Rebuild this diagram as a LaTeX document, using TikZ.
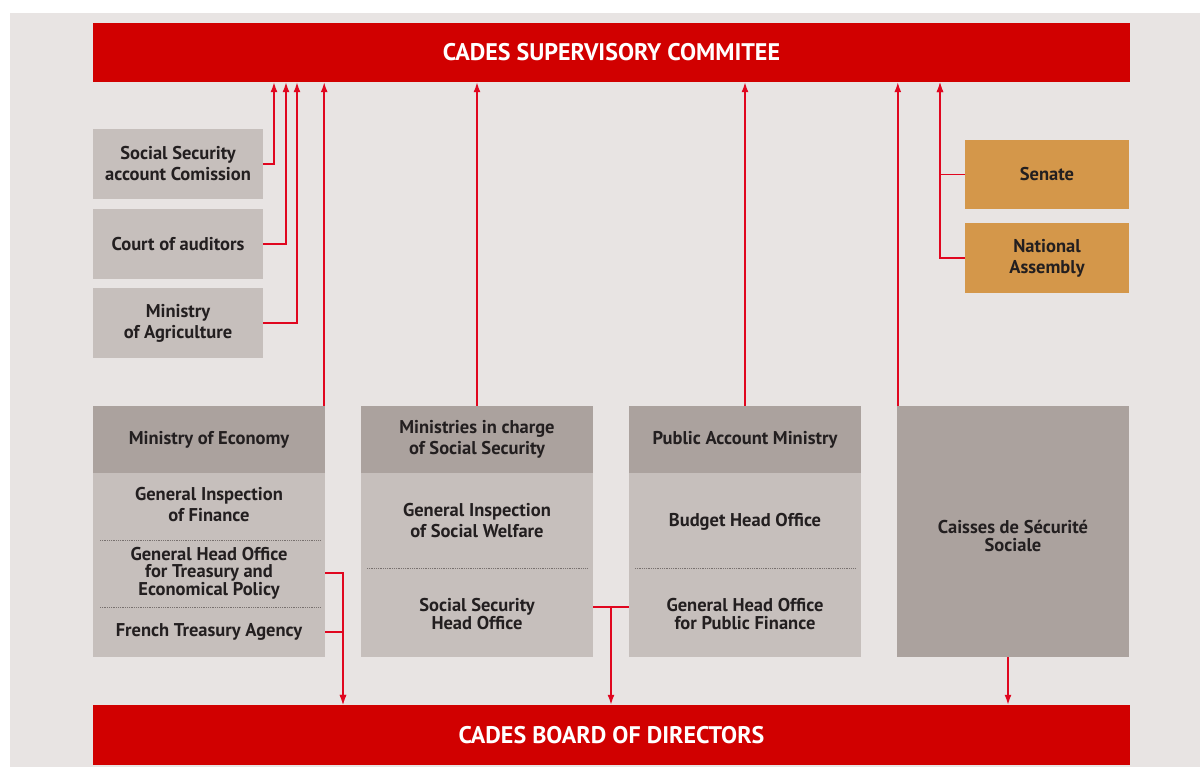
\documentclass[tikz,border=0pt]{standalone}
\usepackage{fontspec}
\setmainfont{PT Sans}
\usetikzlibrary{arrows.meta}
\definecolor{bgback}{HTML}{E8E4E3}
\definecolor{cadesred}{HTML}{D10000}
\definecolor{linered}{HTML}{E0061F}
\definecolor{headgrey}{HTML}{ABA29E}
\definecolor{bodygrey}{HTML}{C6BFBC}
\definecolor{parlorange}{HTML}{D4974A}
\definecolor{txtdark}{HTML}{231F20}
\begin{document}
\begin{tikzpicture}[x=1pt,y=-1pt]
        \tikzstyle{bar} = [rectangle, fill=cadesred, text=white, font=\bfseries\fontsize{24}{26}\selectfont, minimum width=1037pt, minimum height=59pt, inner sep=0pt]
        \tikzstyle{block} = [rectangle, fill=bodygrey, text=txtdark, align=center, font=\bfseries\fontsize{18.5}{21}\selectfont, minimum width=170pt, minimum height=70pt, inner sep=0pt]
        \tikzstyle{head} = [block, fill=headgrey, minimum width=232pt, minimum height=67pt]
        \tikzstyle{body} = [block, minimum width=232pt, minimum height=184pt]
        \tikzstyle{sub} = [text=txtdark, align=center, font=\bfseries\fontsize{18.5}{21}\selectfont, inner sep=0pt]
        \tikzstyle{tight} = [sub, font=\bfseries\fontsize{18.5}{17.5}\selectfont]
        \tikzstyle{sep} = [draw=headgrey!70!black, densely dotted, line width=.8pt]
        \tikzstyle{line} = [-{Latex[length=10pt,width=7pt]}, draw=linered, line width=1.5pt]
        \useasboundingbox (0,0) rectangle (1200,767);
        \fill[bgback] (10,13) rectangle (1200,767);
        \node[bar] (sup) at (611.5,52.5) {CADES SUPERVISORY COMMITEE};
        \node[bar, minimum height=60pt] (board) at (611.5,735) {CADES BOARD OF DIRECTORS};
        % left boxes
        \node[block] (ssac) at (178,164) {Social Security\\account Comission};
        \node[block] (court) at (178,244) {Court of auditors};
        \node[block] (agri) at (178,323) {Ministry\\of Agriculture};
        % parliament
        \node[block, fill=parlorange, minimum width=164pt, minimum height=69pt] (senate) at (1047,174.5) {Senate};
        \node[block, fill=parlorange, minimum width=164pt] (assembly) at (1047,258) {National\\Assembly};
        % ministries
        \node[head] (ecohead) at (209,439.5) {Ministry of Economy};
        \node[body] (ecobody) at (209,565) {};
        \node[head] (sochead) at (477,439.5) {Ministries in charge\\of Social Security};
        \node[body] (socbody) at (477,565) {};
        \node[head] (pubhead) at (745,439.5) {Public Account Ministry};
        \node[body] (pubbody) at (745,565) {};
        \node[head, minimum height=251pt] (caisses) at (1013,531.5) {};
        \node[tight] (caissestxt) at (1013,536) {Caisses de S\'ecurit\'e\\Sociale};
        % sub offices
        \node[sub] (finance) at (209,505) {General Inspection\\of Finance};
        \node[tight] (treasury) at (209,573) {General Head Office\\for Treasury and\\Economical Policy};
        \node[sub] (agency) at (209,632) {French Treasury Agency};
        \node[sub] (welfare) at (477,521) {General Inspection\\of Social Welfare};
        \node[tight] (ssho) at (477,614) {Social Security\\Head Office};
        \node[sub] (budget) at (745,522) {Budget Head Office};
        \node[tight] (pubfin) at (745,614) {General Head Office\\for Public Finance};
        \draw[sep] (100,540) -- (320,540);
        \draw[sep] (100,607) -- (320,607);
        \draw[sep] (367,568) -- (588,568);
        \draw[sep] (635,568) -- (856,568);
        % to the supervisory commitee
        \draw[line] (ssac.east) -| (274,0 |- sup.south);
        \draw[line] (court.east) -| (286,0 |- sup.south);
        \draw[line] (agri.east) -| (297,0 |- sup.south);
        \draw[line] ([xshift=-1pt]ecohead.north east) -- ([xshift=-1pt]ecohead.north east |- sup.south);
        \draw[line] (sochead.north) -- (sochead.north |- sup.south);
        \draw[line] (pubhead.north) -- (pubhead.north |- sup.south);
        \draw[line] ([xshift=1pt]caisses.north west) -- ([xshift=1pt]caisses.north west |- sup.south);
        \draw[line] (senate.west) -| (940,0 |- sup.south);
        \draw[line] (assembly.west) -| (940,0 |- sup.south);
        % to the board
        \draw[line] (ecobody.east |- treasury) -| (343,0 |- board.north);
        \draw[line] (ecobody.east |- agency) -| (343,0 |- board.north);
        \coordinate (join) at (611,607);
        \draw[draw=linered, line width=1.5pt] (socbody.east |- join) -- (pubbody.west |- join);
        \draw[line] (join) -- (join |- board.north);
        \draw[line] ([xshift=-5pt]caisses.south) -- ([xshift=-5pt]caisses.south |- board.north);
    \end{tikzpicture}
\end{document}
